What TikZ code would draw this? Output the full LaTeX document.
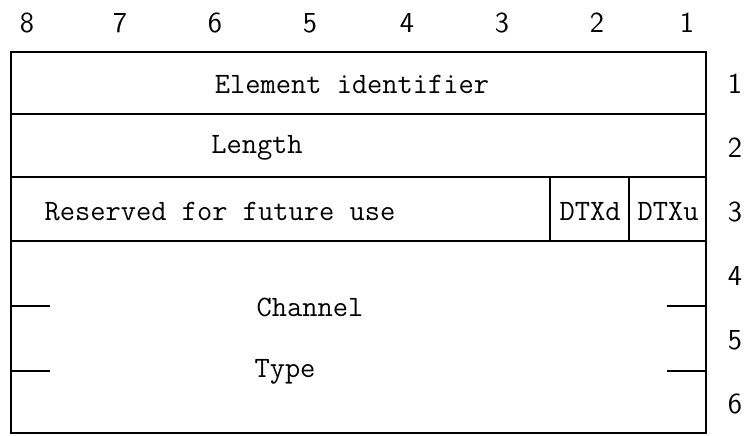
\documentclass[tikz,border=0pt]{standalone}
\usepackage{fontspec}
\usetikzlibrary{positioning}
\tikzset{
  field/.style={font=\fontsize{14.8}{16}\ttfamily, inner sep=0pt},
  bitnum/.style={font=\fontsize{14.5}{16}\sffamily, inner sep=0pt},
  frame/.style={line width=1pt}
}

\begin{document}
\begin{tikzpicture}[x=0.5pt,y=-0.5pt]
\useasboundingbox (0,0) rectangle (749,435);
% bit numbers
\foreach \b/\x in {8/27,7/120,6/215,5/310,4/407,3/502,2/597,1/687}
  \node[bitnum] (bit\b) at (\x,23) {\b};
% octet numbers
\foreach \o/\y in {1/84,2/148,3/212,4/276,5/340,6/404}
  \node[bitnum] (oct\o) at (735,\y) {\o};
% frame and rows
\draw[frame] (11,52) rectangle (706,433);
\draw[frame] (11,114) -- (706,114);
\draw[frame] (11,177) -- (706,177);
\draw[frame] (11,241) -- (706,241);
\draw[frame] (550,177) -- (550,241);
\draw[frame] (629,177) -- (629,241);
% octets 4-6 ticks
\draw[frame] (11,306) -- (50,306);
\draw[frame] (11,371) -- (50,371);
\draw[frame] (667,306) -- (706,306);
\draw[frame] (667,371) -- (706,371);
% field names
\node[field] (elemid) at (352,84) {Element identifier};
\node[field] (length) at (257,148) {Length};
\node[field] (reserved) at (220,212) {Reserved for future use};
\node[field] (dtxd) at (590,212) {DTXd};
\node[field] (dtxu) at (668,212) {DTXu};
\node[field] (channel) at (310,307) {Channel};
\node[field] (type) at (285,372) {Type};
\end{tikzpicture}
\end{document}
